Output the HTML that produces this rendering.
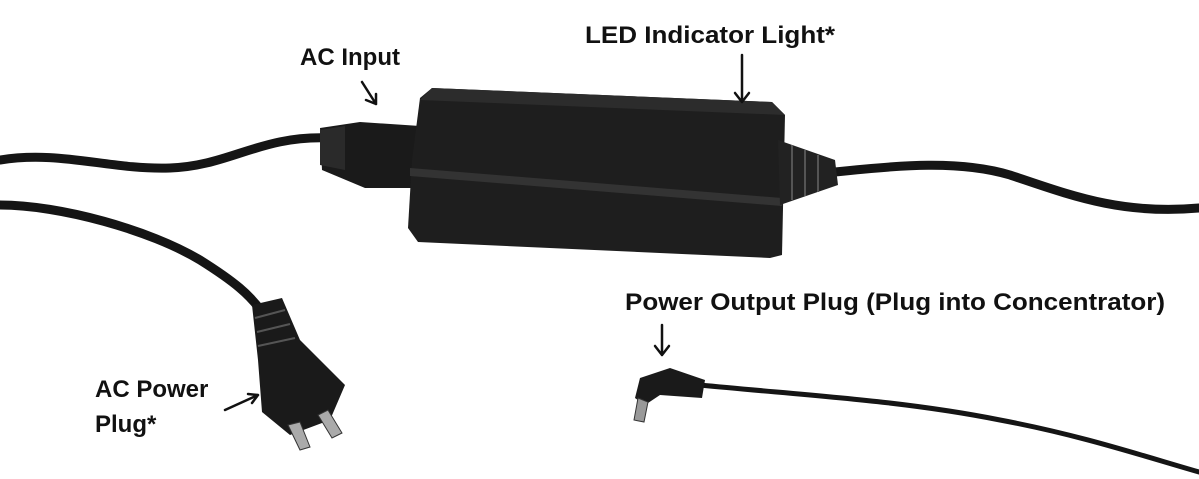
<!DOCTYPE html>
<html><head><meta charset="utf-8"><style>
html,body{margin:0;padding:0;background:#fff;}
svg{display:block}
text{font-family:"Liberation Sans",sans-serif;font-weight:bold;font-size:24px;fill:#111}
</style></head><body>
<svg width="1199" height="479" viewBox="0 0 1199 479" xmlns="http://www.w3.org/2000/svg">
<g fill="none" stroke="#151515" stroke-linecap="round">
<path d="M0 160 C60 150 110 170 170 168 C230 166 260 135 330 138" stroke-width="9"/>
<path d="M0 205 C60 205 150 230 200 260 C235 282 250 295 262 312" stroke-width="9"/>
<path d="M835 172 C900 165 960 160 1010 175 C1070 195 1120 215 1199 208" stroke-width="9"/>
<path d="M700 385 C800 395 900 400 1000 420 C1080 435 1140 455 1199 472" stroke-width="5"/>
</g>
<path d="M320 128 L360 122 L420 126 L420 188 L365 188 L322 170 Z" fill="#1a1a1a"/>
<path d="M320 130 L345 126 L345 170 L320 165 Z" fill="#2a2a2a"/>
<path d="M432 88 L772 102 L785 115 L782 255 L770 258 L418 242 L408 228 L412 160 L420 98 Z" fill="#1e1e1e"/>
<path d="M410 168 L782 198 L782 206 L410 176 Z" fill="#333"/>
<path d="M432 88 L772 102 L785 115 L420 100 Z" fill="#2c2c2c"/>
<path d="M778 140 L835 160 L838 185 L780 205 Z" fill="#222"/>
<g stroke="#555" stroke-width="2"><line x1="792" y1="145" x2="792" y2="200"/><line x1="805" y1="150" x2="805" y2="196"/><line x1="818" y1="155" x2="818" y2="192"/></g>
<path d="M252 305 L282 298 L300 340 L345 385 L330 420 L290 435 L262 412 L258 360 Z" fill="#1a1a1a"/>
<g stroke="#555" stroke-width="2"><line x1="255" y1="318" x2="285" y2="310"/><line x1="257" y1="332" x2="290" y2="324"/><line x1="258" y1="346" x2="295" y2="338"/></g>
<path d="M288 425 L300 450 L310 447 L300 422 Z" fill="#aaa" stroke="#333"/>
<path d="M318 415 L332 438 L342 433 L328 410 Z" fill="#aaa" stroke="#333"/>
<path d="M640 378 L670 368 L705 380 L702 398 L660 395 L645 405 L635 398 Z" fill="#1a1a1a"/>
<path d="M638 398 L634 420 L644 422 L648 402 Z" fill="#999" stroke="#333"/>
<text x="300" y="65">AC Input</text>
<text x="585" y="43" textLength="250" lengthAdjust="spacingAndGlyphs">LED Indicator Light*</text>
<text x="625" y="310" textLength="540" lengthAdjust="spacingAndGlyphs">Power Output Plug (Plug into Concentrator)</text>
<text x="95" y="397">AC Power</text>
<text x="95" y="432">Plug*</text>
<g stroke="#111" stroke-width="2.5" fill="none" stroke-linecap="round">
<path d="M362 82 L376 104 M376 104 L366 100 M376 104 L376 94"/>
<path d="M742 55 L742 102 M742 102 L735 93 M742 102 L749 93"/>
<path d="M662 325 L662 355 M662 355 L655 346 M662 355 L669 346"/>
<path d="M225 410 L258 395 M258 395 L248 394 M258 395 L252 403"/>
</g>
</svg>
</body></html>
